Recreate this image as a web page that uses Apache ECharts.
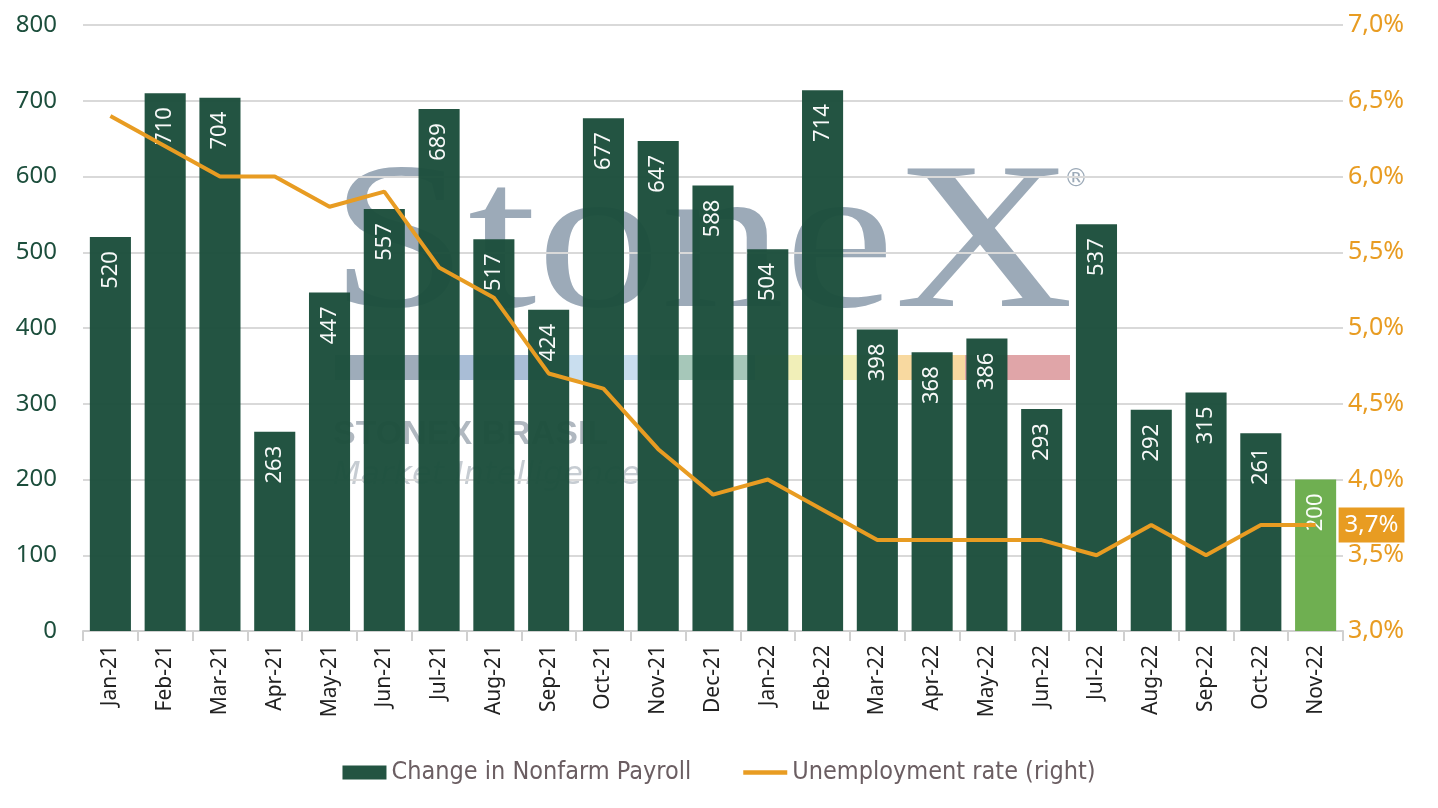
<!DOCTYPE html>
<html>
    <head>
        <meta charset="UTF-8">
        <title>Nonfarm Payroll</title>
        <style type="text/css">
            body,html{ margin: 0; width: 100vw; height: 100vh; overflow: hidden; background: #fff;}
            #chart{ width: 1438px; height: 808px;}
        </style>
    </head>
    <body>
        <div id="chart"></div>
        <script src="https://cdn.jsdelivr.net/npm/echarts@6/dist/echarts.min.js"></script>
        <script type="text/javascript">
            // dados
            var months = ['Jan-21','Feb-21','Mar-21','Apr-21','May-21','Jun-21','Jul-21','Aug-21','Sep-21','Oct-21','Nov-21','Dec-21',
                          'Jan-22','Feb-22','Mar-22','Apr-22','May-22','Jun-22','Jul-22','Aug-22','Sep-22','Oct-22','Nov-22'];
            var payroll = [520,710,704,263,447,557,689,517,424,677,647,588,504,714,398,368,386,293,537,292,315,261,200];
            var unemployment = [6.4,6.2,6.0,6.0,5.8,5.9,5.4,5.2,4.7,4.6,4.2,3.9,4.0,3.8,3.6,3.6,3.6,3.6,3.5,3.7,3.5,3.7,3.7];

            var darkGreen = '#1c4e3c';
            var lightGreen = '#6aac4b';
            var orange = '#e89c22';

            var chart = echarts.init(document.getElementById('chart'));

            function pct(v) { return v.toFixed(1).replace('.', ',') + '%'; }

            var bandColors = ['#9eacba','#a9bdd6','#c9deef','#a6c7b9','#f1efb8','#f8d9a0','#e0a5a8'];
            var band = bandColors.map(function (c, i) {
                return {
                    type: 'rect', z: -10,
                    shape: { x: 335 + i * 105, y: 355, width: 105, height: 25 },
                    style: { fill: c }
                };
            });

            var option = {
                backgroundColor: '#fff',
                animation: false,
                graphic: [
                    { type: 'text', z: -10, left: 330, top: 146, scaleX: 1.18,
                      style: { text: 'StoneX', font: '210px "Liberation Serif", "DejaVu Serif", serif', fill: '#9caab8' } },
                    { type: 'text', z: -10, left: 1064, top: 168,
                      style: { text: '®', font: '24px "DejaVu Sans", sans-serif', fill: '#9caab8' } },
                    { type: 'text', z: -10, left: 333, top: 418,
                      style: { text: 'STONEX BRASIL', font: 'bold 34px "Liberation Sans", sans-serif', fill: '#b0b8c0' } },
                    { type: 'text', z: -10, left: 333, top: 460,
                      style: { text: 'Market Intelligence', font: 'italic 200 32px "DejaVu Sans", sans-serif', fill: '#c6ccd2' } }
                ].concat(band),
                legend: {
                    bottom: 18,
                    left: 'center',
                    itemGap: 52,
                    itemWidth: 44,
                    itemHeight: 14,
                    textStyle: { color: '#6b5e62', fontSize: 25, fontFamily: '"DejaVu Sans Condensed", "Liberation Sans Narrow", sans-serif' },
                    data: [
                        { name: 'Change in Nonfarm Payroll', icon: 'rect' },
                        { name: 'Unemployment rate (right)', icon: 'path://M0,0H40V4H0Z' }
                    ]
                },
                grid: { left: 83, right: 95, top: 25, bottom: 177 },
                xAxis: {
                    type: 'category',
                    data: months,
                    axisLine: { lineStyle: { color: '#d0d0d0', width: 2 } },
                    axisTick: { show: true, length: 10, lineStyle: { color: '#d0d0d0', width: 2 } },
                    axisLabel: { rotate: 90, color: '#222', fontSize: 21, margin: 14, fontFamily: '"Noto Sans", sans-serif' }
                },
                yAxis: [
                    {
                        type: 'value', min: 0, max: 800, interval: 100,
                        axisLabel: { color: darkGreen, fontSize: 24, margin: 26, fontFamily: '"Noto Sans", sans-serif' },
                        axisLine: { show: false }, axisTick: { show: false },
                        splitLine: { lineStyle: { color: '#d9d9d9', width: 2 } }
                    },
                    {
                        type: 'value', min: 3, max: 7, interval: 0.5,
                        axisLabel: { color: orange, fontSize: 25, margin: 5, formatter: pct, fontFamily: '"Noto Sans", sans-serif' },
                        axisLine: { show: false }, axisTick: { show: false },
                        splitLine: { show: false }
                    }
                ],
                series: [
                    {
                        name: 'Change in Nonfarm Payroll',
                        type: 'bar',
                        barCategoryGap: '25%',
                        itemStyle: { color: darkGreen, opacity: 0.97 },
                        label: {
                            show: true, position: 'insideTop', rotate: 90,
                            align: 'right', verticalAlign: 'middle', distance: 14,
                            color: '#fff', fontSize: 22, fontFamily: '"Noto Sans", sans-serif'
                        },
                        data: payroll.map(function (v, i) {
                            return i === payroll.length - 1 ? { value: v, itemStyle: { color: lightGreen } } : v;
                        })
                    },
                    {
                        name: 'Unemployment rate (right)',
                        type: 'line',
                        yAxisIndex: 1,
                        symbol: 'none',
                        color: orange,
                        lineStyle: { color: orange, width: 4 },
                        endLabel: {
                            show: true, distance: 23,
                            formatter: function (p) { return pct(p.value); },
                            color: '#fff', backgroundColor: orange,
                            fontSize: 24, padding: [6, 6, 5, 6],
                            fontFamily: '"Noto Sans", sans-serif'
                        },
                        data: unemployment
                    }
                ]
            };

            chart.setOption(option);
            window.addEventListener('resize', function () { chart.resize(); });
        </script>
    </body>
</html>
